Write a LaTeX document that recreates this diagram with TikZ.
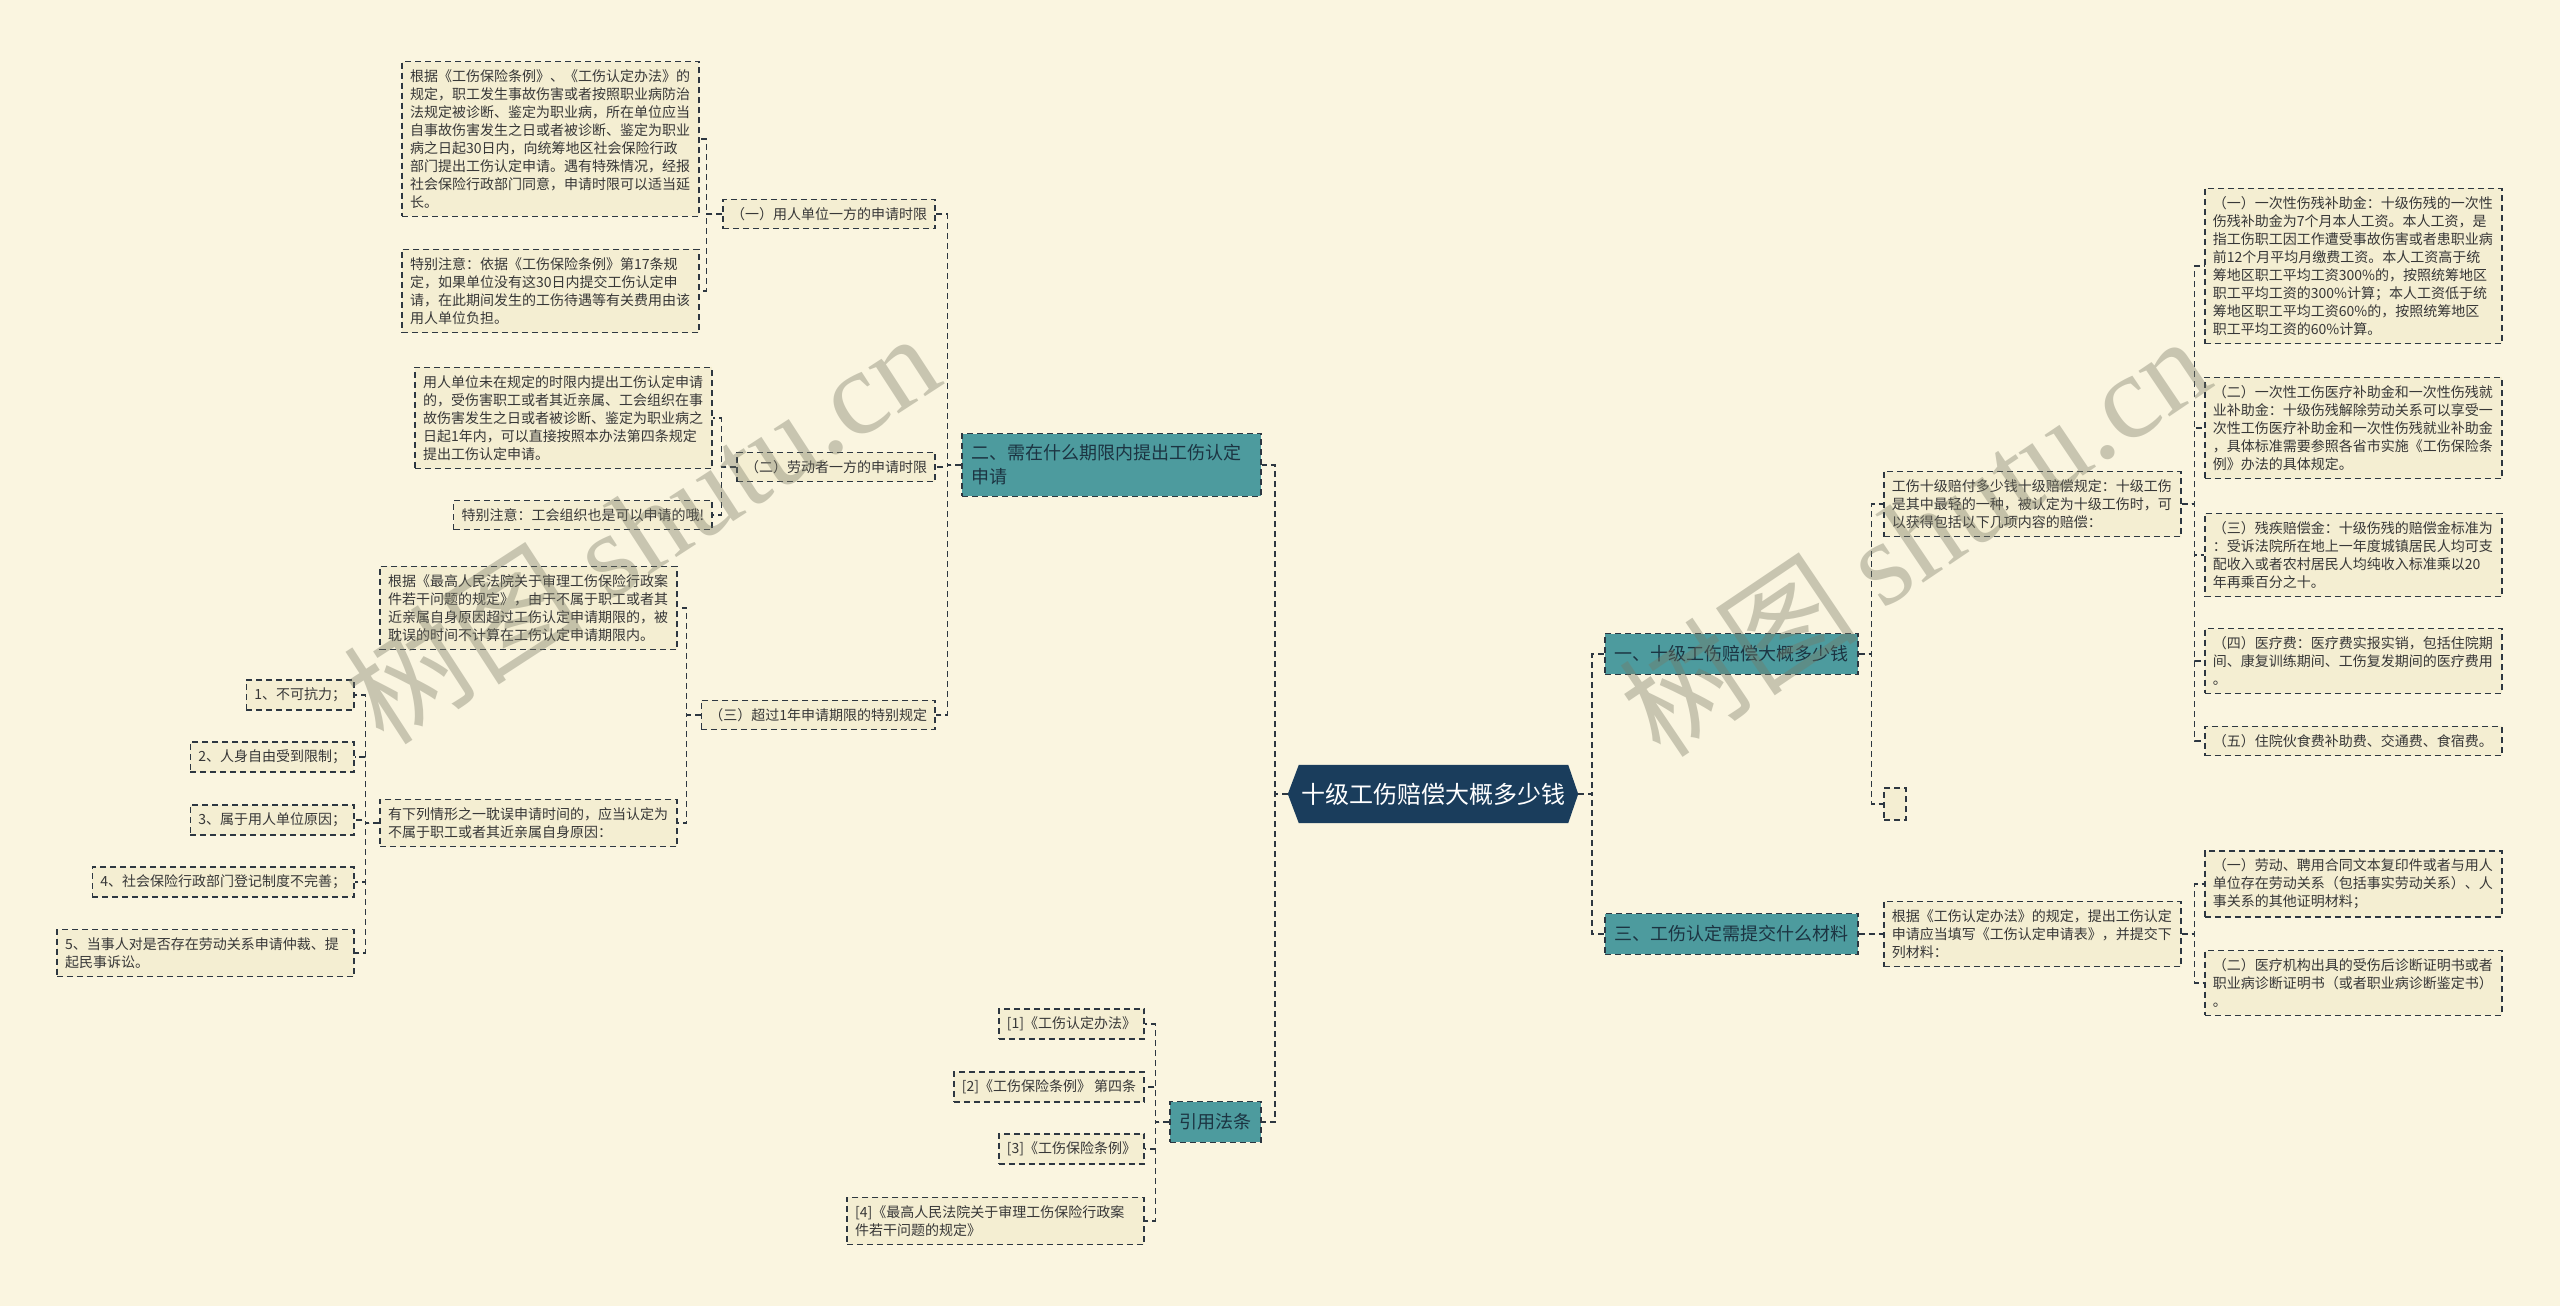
\documentclass[tikz,border=0pt]{standalone}
\usepackage{fontspec}
\newfontfamily\cjk{Noto Sans CJK SC}
\newfontfamily\wmserif{Liberation Serif}
\usetikzlibrary{backgrounds}
\definecolor{bgc}{RGB}{250,245,224}
\definecolor{leaff}{RGB}{244,238,210}
\definecolor{linec}{RGB}{45,55,65}
\definecolor{tealc}{RGB}{77,155,158}
\definecolor{tealt}{RGB}{28,52,66}
\definecolor{navyc}{RGB}{26,61,92}
\definecolor{leaft}{RGB}{55,55,55}
\definecolor{wmc}{RGB}{120,120,100}
\tikzset{
  dsh/.style={draw=linec, line width=1.6pt, dash pattern=on 6pt off 4pt},
  leaf/.style={dsh, fill=leaff, text=leaft, font=\cjk\fontsize{14}{18}\selectfont, inner xsep=8pt, inner ysep=8pt, align=left},
  leafw/.style={leaf, text width=281pt},
  subn/.style={dsh, fill=tealc, text=tealt, font=\cjk\fontsize{18}{24}\selectfont, inner xsep=9.5pt, inner ysep=12pt, align=left},
  rootn/.style={text=white, font=\cjk\fontsize{24}{28}\selectfont, minimum width=290pt, minimum height=58pt, inner sep=0pt},
  conn/.style={dsh},
  wm/.style={text=wmc, text opacity=0.38, font=\cjk\fontsize{120}{120}\selectfont, inner sep=0pt}
}
\begin{document}
\begin{tikzpicture}[x=1pt, y=-1pt]
\begin{scope}[on background layer]
\fill[bgc] (0,0) rectangle (2560,1306);
\end{scope}
\useasboundingbox (0,0) rectangle (2560,1306);

% root
\node[rootn] (root) at (1433,794) {十级工伤赔偿大概多少钱};
\begin{scope}[on background layer]
\fill[navyc] ([xshift=11pt]root.north west) -- ([xshift=-10pt]root.north east) -- (root.east) -- ([xshift=-10pt]root.south east) -- ([xshift=11pt]root.south west) -- (root.west) -- cycle;
\end{scope}

% main branches
\node[subn, anchor=east, text width=280pt, inner ysep=11pt] (b2) at (1262,465) {二、需在什么期限内提出工伤认定\\申请};
\node[subn, anchor=east] (b4) at (1262,1122) {引用法条};
\node[subn, anchor=west] (b1) at (1604,654) {一、十级工伤赔偿大概多少钱};
\node[subn, anchor=west] (b3) at (1604,934) {三、工伤认定需提交什么材料};

% branch 二 children
\node[leaf, anchor=east] (c1) at (936,214) {（一）用人单位一方的申请时限};
\node[leaf, anchor=east] (c2) at (936,467) {（二）劳动者一方的申请时限};
\node[leaf, anchor=east] (c3) at (936,715) {（三）超过1年申请期限的特别规定};

\node[leafw, anchor=east] (a1) at (700,139) {根据《工伤保险条例》、《工伤认定办法》的\\规定，职工发生事故伤害或者按照职业病防治\\法规定被诊断、鉴定为职业病，所在单位应当\\自事故伤害发生之日或者被诊断、鉴定为职业\\病之日起30日内，向统筹地区社会保险行政\\部门提出工伤认定申请。遇有特殊情况，经报\\社会保险行政部门同意，申请时限可以适当延\\长。};
\node[leafw, anchor=east] (a2) at (700,291) {特别注意：依据《工伤保险条例》第17条规\\定，如果单位没有这30日内提交工伤认定申\\请，在此期间发生的工伤待遇等有关费用由该\\用人单位负担。};

\node[leafw, anchor=east] (d1) at (713,418) {用人单位未在规定的时限内提出工伤认定申请\\的，受伤害职工或者其近亲属、工会组织在事\\故伤害发生之日或者被诊断、鉴定为职业病之\\日起1年内，可以直接按照本办法第四条规定\\提出工伤认定申请。};
\node[leaf, anchor=east] (d2) at (713,515) {特别注意：工会组织也是可以申请的哦!};

\node[leafw, anchor=east] (e1) at (678,608) {根据《最高人民法院关于审理工伤保险行政案\\件若干问题的规定》，由于不属于职工或者其\\近亲属自身原因超过工伤认定申请期限的，被\\耽误的时间不计算在工伤认定申请期限内。};
\node[leafw, anchor=east] (e2) at (678,823) {有下列情形之一耽误申请时间的，应当认定为\\不属于职工或者其近亲属自身原因：};

\node[leaf, anchor=east] (f1) at (355,695) {1、不可抗力；};
\node[leaf, anchor=east] (f2) at (355,757) {2、人身自由受到限制；};
\node[leaf, anchor=east] (f3) at (355,820) {3、属于用人单位原因；};
\node[leaf, anchor=east] (f4) at (355,882) {4、社会保险行政部门登记制度不完善；};
\node[leafw, anchor=east] (f5) at (355,953) {5、当事人对是否存在劳动关系申请仲裁、提\\起民事诉讼。};

% references
\node[leaf, anchor=east] (g1) at (1145,1024) {[1]《工伤认定办法》};
\node[leaf, anchor=east] (g2) at (1145,1087) {[2]《工伤保险条例》 第四条};
\node[leaf, anchor=east] (g3) at (1145,1149) {[3]《工伤保险条例》};
\node[leafw, anchor=east] (g4) at (1145,1221) {[4]《最高人民法院关于审理工伤保险行政案\\件若干问题的规定》};

% branch 一
\node[leafw, anchor=west] (h0) at (1883,504) {工伤十级赔付多少钱十级赔偿规定：十级工伤\\是其中最轻的一种，被认定为十级工伤时，可\\以获得包括以下几项内容的赔偿：};
\node[leaf, anchor=west, minimum width=22pt, minimum height=32pt, inner sep=0pt] (h9) at (1883,804) {};

\node[leafw, anchor=west] (r1) at (2204,266) {（一）一次性伤残补助金：十级伤残的一次性\\伤残补助金为7个月本人工资。本人工资，是\\指工伤职工因工作遭受事故伤害或者患职业病\\前12个月平均月缴费工资。本人工资高于统\\筹地区职工平均工资300\%的，按照统筹地区\\职工平均工资的300\%计算；本人工资低于统\\筹地区职工平均工资60\%的，按照统筹地区\\职工平均工资的60\%计算。};
\node[leafw, anchor=west] (r2) at (2204,428) {（二）一次性工伤医疗补助金和一次性伤残就\\业补助金：十级伤残解除劳动关系可以享受一\\次性工伤医疗补助金和一次性伤残就业补助金\\，具体标准需要参照各省市实施《工伤保险条\\例》办法的具体规定。};
\node[leafw, anchor=west] (r3) at (2204,555) {（三）残疾赔偿金：十级伤残的赔偿金标准为\\：受诉法院所在地上一年度城镇居民人均可支\\配收入或者农村居民人均纯收入标准乘以20\\年再乘百分之十。};
\node[leafw, anchor=west] (r4) at (2204,661) {（四）医疗费：医疗费实报实销，包括住院期\\间、康复训练期间、工伤复发期间的医疗费用\\。};
\node[leafw, anchor=west] (r5) at (2204,741) {（五）住院伙食费补助费、交通费、食宿费。};

% branch 三
\node[leafw, anchor=west] (s0) at (1883,934) {根据《工伤认定办法》的规定，提出工伤认定\\申请应当填写《工伤认定申请表》，并提交下\\列材料：};
\node[leafw, anchor=west] (s1) at (2204,884) {（一）劳动、聘用合同文本复印件或者与用人\\单位存在劳动关系（包括事实劳动关系）、人\\事关系的其他证明材料；};
\node[leafw, anchor=west] (s2) at (2204,983) {（二）医疗机构出具的受伤后诊断证明书或者\\职业病诊断证明书（或者职业病诊断鉴定书）\\。};

% connectors
\foreach \c in {b2,b4} \draw[conn] (root.west) -- ++(-13,0) |- (\c.east);
\foreach \c in {b1,b3} \draw[conn] (root.east) -- ++(14,0) |- (\c.west);
\foreach \c in {c1,c2,c3} \draw[conn] (b2.west) -- ++(-14,0) |- (\c.east);
\foreach \c in {a1,a2} \draw[conn] (c1.west) -- ++(-16,0) |- (\c.east);
\foreach \c in {d1,d2} \draw[conn] (c2.west) -- ++(-15,0) |- (\c.east);
\foreach \c in {e1,e2} \draw[conn] (c3.west) -- ++(-14,0) |- (\c.east);
\foreach \c in {f1,f2,f3,f4,f5} \draw[conn] (e2.west) -- ++(-14,0) |- (\c.east);
\foreach \c in {g1,g2,g3,g4} \draw[conn] (b4.west) -- ++(-14,0) |- (\c.east);
\foreach \c in {h0,h9} \draw[conn] (b1.east) -- ++(13,0) |- (\c.west);
\foreach \c in {r1,r2,r3,r4,r5} \draw[conn] (h0.east) -- ++(13,0) |- (\c.west);
\draw[conn] (b3.east) -- (s0.west);
\foreach \c in {s1,s2} \draw[conn] (s0.east) -- ++(13,0) |- (\c.west);

% watermarks
\node[wm, rotate=33] (wm1) at (641,527) {树图 {\wmserif shutu.cn}};
\node[wm, rotate=34] (wm2) at (1914,535) {树图 {\wmserif shutu.cn}};
\end{tikzpicture}
\end{document}
